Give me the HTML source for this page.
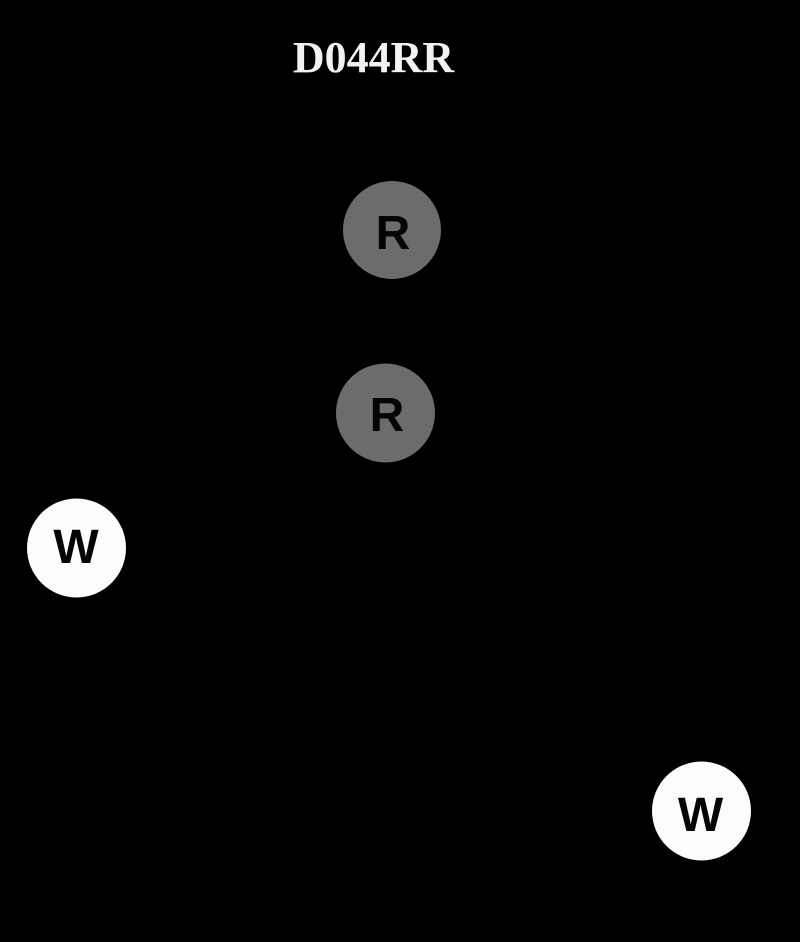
<!DOCTYPE html>
<html>
<head>
<meta charset="utf-8">
<style>
  html, body { margin: 0; padding: 0; background: #000; }
  body { width: 800px; height: 942px; overflow: hidden; }
  svg { display: block; }
</style>
</head>
<body>
<svg width="800" height="942" viewBox="0 0 800 942" xmlns="http://www.w3.org/2000/svg">
  <rect x="0" y="0" width="800" height="942" fill="#000"/>
  <text x="386" y="24" font-family="Liberation Sans, sans-serif" font-size="7" fill="#1c1c1c" text-anchor="middle">. . . .</text>
  <text x="373.5" y="72" font-family="Liberation Serif, serif" font-weight="bold" font-size="44" fill="#f2f2f2" text-anchor="middle">D044RR</text>

  <circle cx="392" cy="230" r="49" fill="#6c6c6c"/>
  <text x="393" y="249" font-family="Liberation Sans, sans-serif" font-weight="bold" font-size="48" fill="#050505" text-anchor="middle">R</text>

  <circle cx="385.5" cy="413" r="49.5" fill="#6c6c6c"/>
  <text x="387" y="431" font-family="Liberation Sans, sans-serif" font-weight="bold" font-size="48" fill="#050505" text-anchor="middle">R</text>

  <circle cx="76.5" cy="548" r="49.5" fill="#fcfcfc"/>
  <text x="76" y="563" font-family="Liberation Sans, sans-serif" font-weight="bold" font-size="48" fill="#050505" text-anchor="middle">W</text>

  <circle cx="701.5" cy="811" r="49.5" fill="#fcfcfc"/>
  <text x="700.5" y="831" font-family="Liberation Sans, sans-serif" font-weight="bold" font-size="48" fill="#050505" text-anchor="middle">W</text>
</svg>
</body>
</html>
